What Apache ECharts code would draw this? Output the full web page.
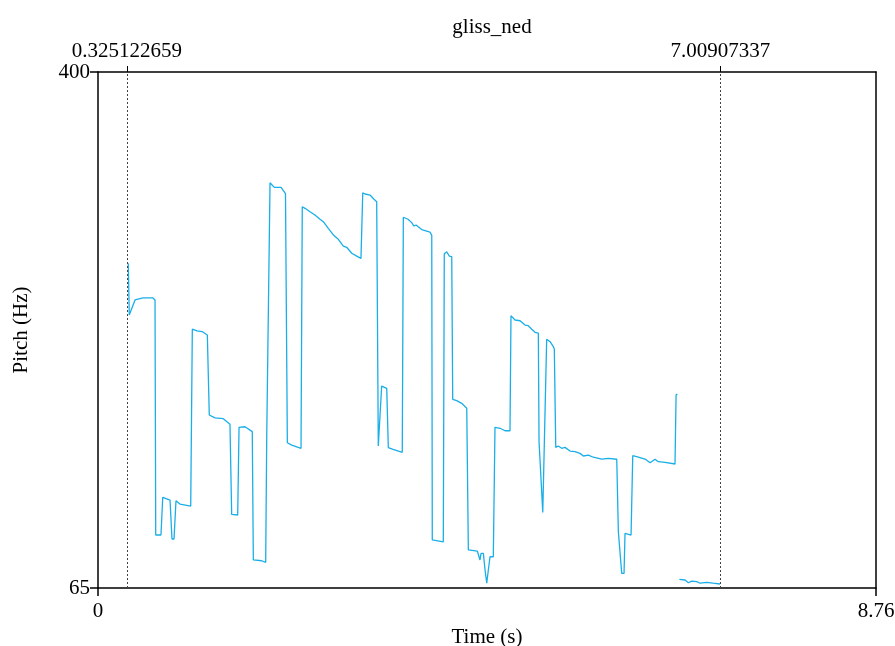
<!DOCTYPE html>
<html>
<head>
<meta charset="utf-8">
<script src="https://cdn.jsdelivr.net/npm/echarts@6/dist/echarts.min.js"></script>
<style>
  html, body { margin: 0; padding: 0; background: #fff; }
  #chart { width: 895px; height: 646px; }
</style>
</head>
<body>
<div id="chart"></div>
<script>
// pitch track (s, Hz); null = unvoiced gap
const times = [
  0.341, 0.352, 0.417, 0.507, 0.619, 0.642, 0.650, 0.709, 0.729, 0.811,
  0.833, 0.856, 0.878, 0.923, 1.044, 1.062, 1.115, 1.171, 1.231, 1.253,
  1.317, 1.411, 1.486, 1.505, 1.573, 1.588, 1.655, 1.737, 1.749, 1.843,
  1.888, 1.900, 1.918, 1.937, 1.985, 2.061, 2.111, 2.132, 2.181, 2.286,
  2.300, 2.331, 2.387, 2.443, 2.500, 2.537, 2.593, 2.650, 2.706, 2.762,
  2.800, 2.857, 2.913, 2.961, 2.981, 3.006, 3.063, 3.108, 3.138, 3.156,
  3.175, 3.194, 3.251, 3.269, 3.322, 3.426, 3.438, 3.491, 3.532, 3.558,
  3.581, 3.645, 3.738, 3.758, 3.764, 3.888, 3.899, 3.926, 3.956, 3.983,
  3.994, 4.039, 4.095, 4.152, 4.163, 4.170, 4.271, 4.301, 4.313, 4.339,
  4.358, 4.377, 4.395, 4.414, 4.451, 4.470, 4.527, 4.583, 4.639, 4.650,
  4.695, 4.752, 4.808, 4.845, 4.884, 4.921, 4.958, 4.966, 4.988, 5.008,
  5.025, 5.052, 5.090, 5.127, 5.138, 5.154, 5.183, 5.221, 5.258, 5.315,
  5.371, 5.427, 5.465, 5.521, 5.577, 5.672, 5.746, 5.841, 5.859, 5.878,
  5.897, 5.923, 5.934, 6.002, 6.021, 6.084, 6.159, 6.216, 6.272, 6.309,
  6.385, 6.497, 6.509, 6.523, 6.535, 6.546, 6.610, 6.647, 6.685, 6.741,
  6.779, 6.854, 6.925, 7.004
];
const pitch = [
  275.8, 242.2, 252.0, 253.3, 253.3, 252.0, 99.4, 99.4, 123.9, 122.1,
  96.8, 96.8, 121.7, 119.5, 118.2, 233.0, 231.9, 231.5, 229.3, 177.3,
  175.4, 174.9, 171.3, 112.8, 112.4, 169.3, 169.7, 166.5, 83.2, 82.7,
  81.7, 163.9, 163.9, 328.1, 325.1, 325.1, 321.1, 159.3, 157.8, 155.7,
  312.5, 311.5, 309.3, 307.2, 304.4, 302.8, 298.5, 294.2, 291.4, 287.0,
  286.2, 282.3, 280.5, 279.0, 321.6, 320.8, 320.1, 317.4, 315.8, 157.2,
  157.2, 196.1, 194.6, 156.1, 155.0, 153.1, 305.7, 304.4, 302.2, 300.0,
  300.7, 297.7, 296.1, 293.9, 96.2, 95.0, 282.0, 283.3, 280.5, 280.1,
  187.5, 186.6, 184.9, 181.7, 181.0, 89.7, 89.0, 83.2, 87.5, 87.5,
  76.7, 68.1, 76.7, 85.3, 85.3, 169.3, 168.7, 167.1, 167.1, 241.8,
  239.0, 238.5, 235.7, 235.3, 233.0, 231.0, 230.4, 160.0, 159.3, 114.1,
  114.1, 226.5, 224.9, 221.7, 220.2, 156.3, 157.2, 155.7, 156.3, 153.9,
  153.5, 152.4, 150.7, 151.3, 149.9, 148.7, 149.2, 148.6, 101.5, 101.2,
  74.5, 74.5, 100.5, 99.4, 150.9, 149.9, 148.7, 146.3, 148.6, 147.0,
  146.6, 145.5, 190.3, 191.0, null, 70.6, 70.2, 68.4, 69.5, 69.1,
  68.1, 68.7, 68.1, 67.6
];
const tierMarks = [0.325122659, 7.00907337];
const timeRange = [0, 8.76];
const pitchRange = [65, 400];

const serif = 'Liberation Serif';
const fs = 21;

const chart = echarts.init(document.getElementById('chart'), null, { renderer: 'canvas' });

chart.setOption({
  animation: false,
  backgroundColor: '#fff',
  title: {
    text: 'gliss_ned',
    left: 487, top: 12, textAlign: 'center',
    textStyle: { fontFamily: serif, fontSize: fs, fontWeight: 'normal', color: '#000' }
  },
  grid: { left: 98, right: 19, top: 72, bottom: 58, show: false, containLabel: false, outerBoundsMode: 'none' },
  xAxis: [
    {
      type: 'value', position: 'bottom',
      min: timeRange[0], max: timeRange[1],
      name: 'Time (s)', nameLocation: 'middle', nameGap: 38,
      nameTextStyle: { fontFamily: serif, fontSize: fs, color: '#000' },
      axisLine: { show: true, onZero: false, lineStyle: { color: '#000', width: 1.5 } },
      axisTick: { show: true, inside: false, length: 8, customValues: timeRange, lineStyle: { color: '#000', width: 1.5 } },
      axisLabel: { show: true, customValues: timeRange, margin: 13, fontFamily: serif, fontSize: fs, color: '#000',
        formatter: v => String(v) },
      splitLine: { show: false }
    },
    {
      type: 'value', position: 'top',
      min: timeRange[0], max: timeRange[1],
      axisLine: { show: true, onZero: false, lineStyle: { color: '#000', width: 1.5 } },
      axisTick: { show: true, inside: false, length: 6, customValues: tierMarks, lineStyle: { color: '#000', width: 1 } },
      axisLabel: { show: true, customValues: tierMarks, margin: 10, fontFamily: serif, fontSize: fs, color: '#000',
        formatter: v => String(v) },
      splitLine: { show: false }
    }
  ],
  yAxis: [
    {
      type: 'value', position: 'left',
      min: pitchRange[0], max: pitchRange[1],
      name: 'Pitch (Hz)', nameLocation: 'middle', nameGap: 66, nameRotate: 90,
      nameTextStyle: { fontFamily: serif, fontSize: fs, color: '#000' },
      axisLine: { show: true, onZero: false, lineStyle: { color: '#000', width: 1.5 } },
      axisTick: { show: true, inside: false, length: 8, customValues: pitchRange, lineStyle: { color: '#000', width: 1.5 } },
      axisLabel: { show: true, customValues: pitchRange, margin: 8, fontFamily: serif, fontSize: fs, color: '#000' },
      splitLine: { show: false }
    },
    {
      type: 'value', position: 'right',
      min: pitchRange[0], max: pitchRange[1],
      axisLine: { show: true, onZero: false, lineStyle: { color: '#000', width: 1.5 } },
      axisTick: { show: false },
      axisLabel: { show: false },
      splitLine: { show: false }
    }
  ],
  series: [
    {
      type: 'line',
      xAxisIndex: 0, yAxisIndex: 0,
      data: times.map((t, i) => [t, pitch[i]]),
      showSymbol: false,
      connectNulls: false,
      lineStyle: { color: '#1aaee8', width: 1.3 },
      markLine: {
        silent: true,
        symbol: ['none', 'none'],
        label: { show: false },
        lineStyle: { color: '#444', width: 1, type: [2, 2] },
        data: tierMarks.map(v => ({ xAxis: v }))
      }
    }
  ]
});
</script>
</body>
</html>
